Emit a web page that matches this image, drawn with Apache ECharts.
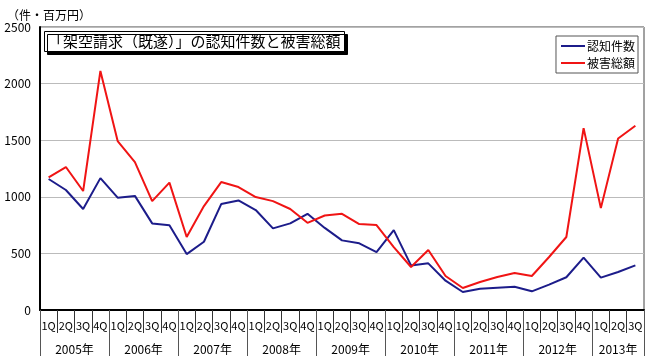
<!DOCTYPE html>
<html><head><meta charset="utf-8">
<script src="https://cdn.jsdelivr.net/npm/echarts@6/dist/echarts.min.js"></script>
<style>html,body{margin:0;padding:0;background:#fff}#c{width:650px;height:364px}</style>
</head><body><div id="c"></div>
<script>
var years = ['2005年','2006年','2007年','2008年','2009年','2010年','2011年','2012年','2013年'];
var quartersPerYear = [4,4,4,4,4,4,4,4,3];
var quarterNames = ['1Q','2Q','3Q','4Q'];
var yTicks = [0,500,1000,1500,2000,2500];
var cases = [1157,1060,892,1165,992,1008,765,748,494,603,936,968,883,721,765,850,
  725,615,589,512,706,394,412,259,159,188,197,206,165,224,289,462,286,336,394];
var damage = [1172,1263,1051,2112,1492,1307,962,1125,645,918,1130,1086,998,962,892,770,
  835,850,759,750,556,380,530,300,194,247,292,327,300,468,645,1607,900,1515,1628];

var quarters = [];
years.forEach(function(y,i){ for(var q=0;q<quartersPerYear[i];q++) quarters.push(quarterNames[q]); });
var halfCats = [], yearCenters = {}, yearBounds = {0:true};
var pos = 0;
years.forEach(function(y,i){
  var start = pos*2, end = (pos+quartersPerYear[i])*2;
  yearCenters[(start+end)/2] = y;
  yearBounds[end] = true;
  pos += quartersPerYear[i];
});
for (var k=0;k<=pos*2;k++) halfCats.push(yearCenters[k] || '');

var font = "'Noto Sans CJK JP', sans-serif";
var chart = echarts.init(document.getElementById('c'));
chart.setOption({
  animation:false,
  title:[{
    text:'（件・百万円）', left:2, top:4,
    textStyle:{fontSize:12, fontWeight:'normal', color:'#000', fontFamily:font}
  },{
    text:'「架空請求（既遂）」の認知件数と被害総額', left:44, top:31, padding:[3,4,3,4],
    borderColor:'#000', borderWidth:1, backgroundColor:'#fff',
    shadowColor:'#000', shadowOffsetX:3, shadowOffsetY:3, shadowBlur:0,
    textStyle:{fontSize:15, fontWeight:'normal', color:'#000', fontFamily:font}
  }],
  legend:{
    orient:'vertical', right:12, top:36, padding:[4,3,4,5], itemGap:5,
    borderColor:'#555', borderWidth:1, itemWidth:24, itemHeight:2, icon:'rect',
    textStyle:{fontSize:12, color:'#000', fontFamily:font, padding:[0,0,0,-3]},
    data:['認知件数','被害総額']
  },
  grid:{left:40, right:6, top:27, bottom:54, show:true, borderColor:'#444', borderWidth:1},
  xAxis:[{
    type:'category', data:quarters, boundaryGap:true,
    axisLine:{lineStyle:{color:'#000', width:2}},
    axisTick:{show:true, length:23, lineStyle:{color:'#333'}, interval:0},
    axisLabel:{interval:0, margin:10, fontSize:11, color:'#000', fontFamily:font}
  },{
    type:'category', data:halfCats, boundaryGap:false, position:'bottom',
    axisLine:{show:false},
    axisTick:{show:true, length:46, lineStyle:{color:'#555'},
      interval:function(i){ return !!yearBounds[i]; }},
    axisLabel:{interval:function(i,v){ return v!==''; }, margin:33, fontSize:12, color:'#000', fontFamily:font}
  }],
  yAxis:{
    type:'value', min:yTicks[0], max:yTicks[yTicks.length-1], interval:yTicks[1]-yTicks[0],
    axisLine:{show:true, lineStyle:{color:'#000', width:2}},
    axisTick:{show:false},
    axisLabel:{fontSize:12, color:'#000', fontFamily:font, margin:9, formatter:function(v){return String(v);}},
    splitLine:{lineStyle:{color:'#bbb'}}
  },
  series:[{
    name:'認知件数', type:'line', data:cases, symbol:'none',
    lineStyle:{color:'#1c1c8a', width:2}, itemStyle:{color:'#1c1c8a'}
  },{
    name:'被害総額', type:'line', data:damage, symbol:'none',
    lineStyle:{color:'#f01414', width:2}, itemStyle:{color:'#f01414'}
  }]
});
</script></body></html>
